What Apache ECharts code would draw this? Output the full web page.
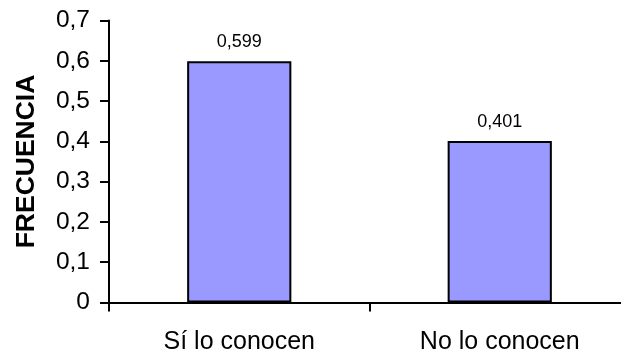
<!DOCTYPE html>
<html>
<head>
<meta charset="utf-8">
<script src="https://cdn.jsdelivr.net/npm/echarts@6/dist/echarts.min.js"></script>
<style>html,body{margin:0;padding:0;background:#fff;}#c{width:621px;height:356px;}</style>
</head>
<body>
<div id="c"></div>
<script>
const categories = ['Sí lo conocen', 'No lo conocen'];
const values = [0.599, 0.401];
const yTicks = { min: 0, max: 0.7, interval: 0.1 };
const yTitle = 'FRECUENCIA';

const fmt = v => String(v).replace('.', ',');
const chart = echarts.init(document.getElementById('c'), null, { renderer: 'canvas' });
chart.setOption({
  animation: false,
  backgroundColor: '#ffffff',
  textStyle: { fontFamily: 'Liberation Sans, Arial, sans-serif' },
  grid: { left: 109, top: 20.5, width: 521, height: 282, containLabel: false, outerBoundsMode: 'none' },
  xAxis: {
    type: 'category',
    data: categories,
    boundaryGap: true,
    axisLine: { lineStyle: { color: '#000', width: 2 } },
    axisTick: { show: true, length: 9, lineStyle: { color: '#000', width: 2 } },
    axisLabel: { color: '#000', fontSize: 25, margin: 27, fontFamily: 'Liberation Sans' },
    splitLine: { show: false }
  },
  yAxis: {
    type: 'value',
    min: yTicks.min, max: yTicks.max, interval: yTicks.interval,
    name: yTitle,
    nameLocation: 'middle',
    nameGap: 69,
    nameRotate: 90,
    nameTextStyle: { color: '#000', fontSize: 26.5, fontWeight: 'bold', fontFamily: 'Liberation Sans' },
    axisLine: { show: true, lineStyle: { color: '#000', width: 2 } },
    axisTick: { show: true, length: 9, lineStyle: { color: '#000', width: 2 } },
    axisLabel: { color: '#000', fontSize: 24.5, margin: 19, fontFamily: 'Liberation Sans',
      formatter: v => fmt(Math.round(v * 10) / 10) },
    splitLine: { show: false }
  },
  series: [{
    type: 'bar',
    data: values,
    barWidth: '40%',
    itemStyle: { color: '#9999FF', borderColor: '#000', borderWidth: 2 },
    label: { show: true, position: 'top', distance: 10, color: '#000', fontSize: 18,
      fontFamily: 'Liberation Sans', formatter: p => fmt(p.value) }
  }]
});
</script>
</body>
</html>
